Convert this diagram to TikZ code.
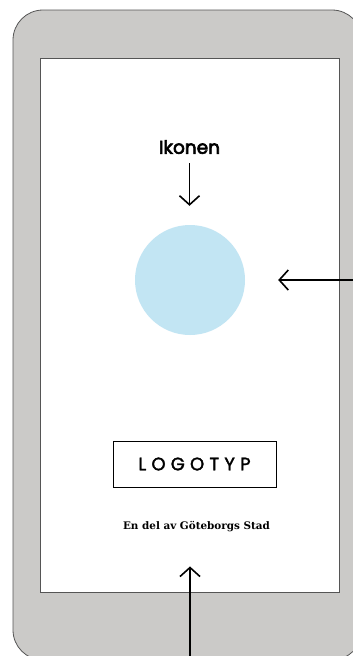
\documentclass[tikz,border=0pt]{standalone}
\usepackage{fontspec}
\setmainfont{DejaVu Serif}
\newfontfamily\popmedium[FakeBold=2]{Poppins}
\newfontfamily\popsemi[FakeBold=3.5]{Poppins}
\usetikzlibrary{arrows.meta}
\definecolor{phonegray}{HTML}{CBCAC8}
\definecolor{edgegray}{HTML}{555555}
\definecolor{iconblue}{HTML}{C2E5F3}
\tikzset{
  phonebody/.style={draw=edgegray, line width=0.8pt, fill=phonegray, rounded corners=30pt},
  screenbox/.style={draw=edgegray, line width=0.8pt, fill=white},
  pointer/.style={-{Straight Barb[length=9pt,width=20pt,line width=1.6pt]}, line width=1.8pt, black},
  lbl/.style={font=\popsemi\fontsize{18.5}{21}\selectfont, inner sep=0pt},
}
\begin{document}
\begin{tikzpicture}[x=1pt,y=-1pt]
\clip (0,0) rectangle (353,656);
\useasboundingbox (0,0) rectangle (353,656);
\draw[phonebody] (13,10) rectangle (362,660);
\node[screenbox, minimum width=299pt, minimum height=534pt, inner sep=0pt] (screen) at (189.5,325) {};
\node[lbl] (ikonen) at (189.5,147) {Ikonen};
\node[circle, fill=iconblue, minimum size=110pt, inner sep=0pt] (icon) at (190,280) {};
\node[draw=black, line width=0.8pt, minimum width=163pt, minimum height=46pt, inner sep=0pt,
      font=\popmedium\fontsize{18}{20}\selectfont] (logo) at (194.5,464) {\addfontfeature{LetterSpace=29}LOGOTYP};
\node[font=\fontsize{10.4}{12}\selectfont\bfseries, inner sep=0pt] (stad) at (196.5,527) {En del av Göteborgs Stad};
\coordinate (rightin) at (360,280);
\coordinate (bottomin) at (190,660);
\draw[pointer, shorten <=9pt, shorten >=19pt] (ikonen.south) -- (ikonen.south |- icon.north);
\draw[pointer, shorten >=33pt] (rightin) -- (icon.east);
\draw[pointer, shorten >=34pt] (bottomin) -- (bottomin |- stad.south);
\end{tikzpicture}
\end{document}
